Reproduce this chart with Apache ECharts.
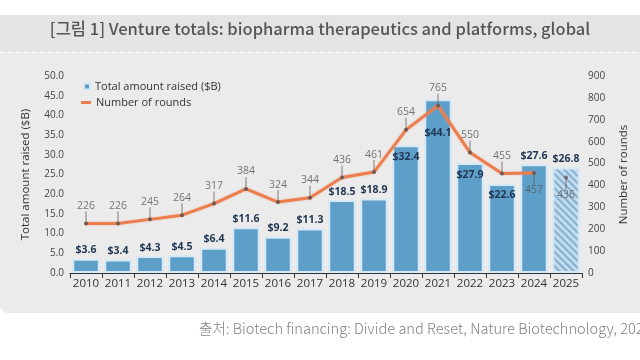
<!DOCTYPE html>
<html><head><meta charset="utf-8">
<script src="https://cdn.jsdelivr.net/npm/echarts@6/dist/echarts.min.js"></script>
<style>html,body{margin:0;padding:0;background:#fff}#c{width:640px;height:360px}</style>
</head><body><div id="c"></div>
<script>
const years = ['2010','2011','2012','2013','2014','2015','2016','2017','2018','2019','2020','2021','2022','2023','2024','2025'];
const amountRaised = [3.6,3.4,4.3,4.5,6.4,11.6,9.2,11.3,18.5,18.9,32.4,44.1,27.9,22.6,27.6,26.8];
const rounds = [226,226,245,264,317,384,324,344,436,461,654,765,550,455,457,436];
const leftTicks = [0,5,10,15,20,25,30,35,40,45,50];
const rightTicks = [0,100,200,300,400,500,600,700,800,900];
// bar labels drawn inside the bar top for these years
const insideLabelYears = ['2020','2021','2022','2023'];
// round labels drawn below the point for these years
const belowLabelYears = ['2024','2025'];

const FONT = '"Open Sans", "Noto Sans", sans-serif';
const chart = echarts.init(document.getElementById('c'));
const last = years.length - 1;

const barData = amountRaised.map((v, i) => {
  const inside = insideLabelYears.includes(years[i]);
  const item = { value: v, label: { position: inside ? 'insideTop' : 'top', distance: inside ? (years[i] === '2021' ? 28 : 6) : 3 } };
  if (i === last) {
    item.itemStyle = {
      color: '#c3dbec',
      decal: { symbol: 'rect', symbolSize: 1, color: 'rgba(110,160,200,0.75)', dashArrayX: [1, 0], dashArrayY: [1.2, 2.6], rotation: Math.PI / 4 }
    };
  }
  return item;
});
const lineData = rounds.map((v, i) => i === last ? '-' : v);
const lastPoint = rounds.map((v, i) => i === last ? v : '-');
const leaderData = rounds.map((v, i) => {
  const below = belowLabelYears.includes(years[i]);
  return { value: v, symbolOffset: [0, below ? 6 : -6], label: { position: below ? 'bottom' : 'top', distance: 0 } };
});

chart.setOption({
  backgroundColor: '#ffffff',
  animation: false,
  graphic: [
    { type: 'rect', shape: { x: 0, y: 15, width: 640, height: 298, r: [0, 0, 0, 8] }, style: { fill: '#ebebeb' }, z: -10 },
    { type: 'rect', shape: { x: 0, y: 15, width: 640, height: 37 }, style: { fill: '#e4e4e4' }, z: -9 },
    { type: 'line', shape: { x1: 0, y1: 52.5, x2: 640, y2: 52.5 }, style: { stroke: '#ffffff', lineWidth: 1.2, lineDash: [5, 3] }, z: -8 },
    { type: 'text', left: 'center', top: 20, style: { text: '[그림 1] Venture totals: biopharma therapeutics and platforms, global', fill: '#555555', font: '500 16.5px "Noto Sans CJK KR", "Noto Sans", sans-serif' } },
    { type: 'text', left: 199, top: 321, style: { text: '출처: Biotech financing: Divide and Reset, Nature Biotechnology, 2025', fill: '#808080', font: '300 14.6px "Noto Sans CJK KR", "Noto Sans", sans-serif' } }
  ],
  legend: [
    { data: [{ name: 'Total amount raised ($B)', icon: 'rect' }], left: 78, top: 76, itemWidth: 6, itemHeight: 6, textStyle: { color: '#333', fontSize: 11, fontFamily: FONT }, selectedMode: false },
    { data: [{ name: 'Number of rounds', icon: 'rect', itemStyle: { color: '#ec7d4d' } }], left: 76, top: 92, itemWidth: 10, itemHeight: 3, textStyle: { color: '#333', fontSize: 11, fontFamily: FONT }, selectedMode: false }
  ],
  grid: { left: 70, right: 58, top: 76, bottom: 87 },
  xAxis: {
    type: 'category', data: years, boundaryGap: true,
    axisLine: { lineStyle: { color: '#333', width: 1.2 } },
    axisTick: { show: true, inside: false, length: 5, lineStyle: { color: '#333' } },
    axisLabel: { color: '#333', fontSize: 11.5, fontFamily: FONT, margin: 5, interval: 0 }
  },
  yAxis: [
    {
      type: 'value', min: leftTicks[0], max: leftTicks[leftTicks.length - 1], interval: 5,
      name: 'Total amount raised ($B)', nameLocation: 'middle', nameGap: 38,
      nameTextStyle: { color: '#333', fontSize: 11.5, fontFamily: FONT },
      axisLine: { show: false }, axisTick: { show: false }, splitLine: { show: false },
      axisLabel: { color: '#444', fontSize: 10, fontFamily: FONT, formatter: v => v.toFixed(1), margin: 6 }
    },
    {
      type: 'value', min: rightTicks[0], max: rightTicks[rightTicks.length - 1], interval: 100,
      name: 'Number of rounds', nameLocation: 'middle', nameGap: 36, nameRotate: 90,
      nameTextStyle: { color: '#333', fontSize: 11.5, fontFamily: FONT },
      axisLine: { show: false }, axisTick: { show: false }, splitLine: { show: false },
      axisLabel: { color: '#444', fontSize: 10, fontFamily: FONT, margin: 6 }
    }
  ],
  series: [
    {
      name: 'Total amount raised ($B)', type: 'bar', yAxisIndex: 0, data: barData,
      barCategoryGap: '14%',
      itemStyle: { color: '#5e9fca', borderColor: '#d6e9f5', borderWidth: 2 },
      label: { show: true, color: '#1f3550', fontWeight: 'bold', fontSize: 10.5, fontFamily: FONT, formatter: p => '$' + p.value.toFixed(1) },
      z: 1
    },
    {
      name: 'Number of rounds', type: 'line', yAxisIndex: 1, data: lineData,
      symbol: 'circle', symbolSize: 4, showSymbol: true,
      lineStyle: { color: '#ec7d4d', width: 3, shadowColor: 'rgba(240,140,100,0.5)', shadowBlur: 2 },
      itemStyle: { color: '#6e5a52' },
      z: 3
    },
    {
      type: 'scatter', yAxisIndex: 1, data: lastPoint,
      symbol: 'circle', symbolSize: 4, itemStyle: { color: '#6e5a52' }, z: 4, silent: true
    },
    {
      type: 'scatter', yAxisIndex: 1, data: leaderData,
      symbol: 'rect', symbolSize: [1, 12], itemStyle: { color: '#6e5a52' },
      label: { show: true, color: '#555', fontSize: 10.5, fontFamily: FONT, formatter: p => String(p.value) },
      z: 4, silent: true
    }
  ]
});
</script></body></html>
